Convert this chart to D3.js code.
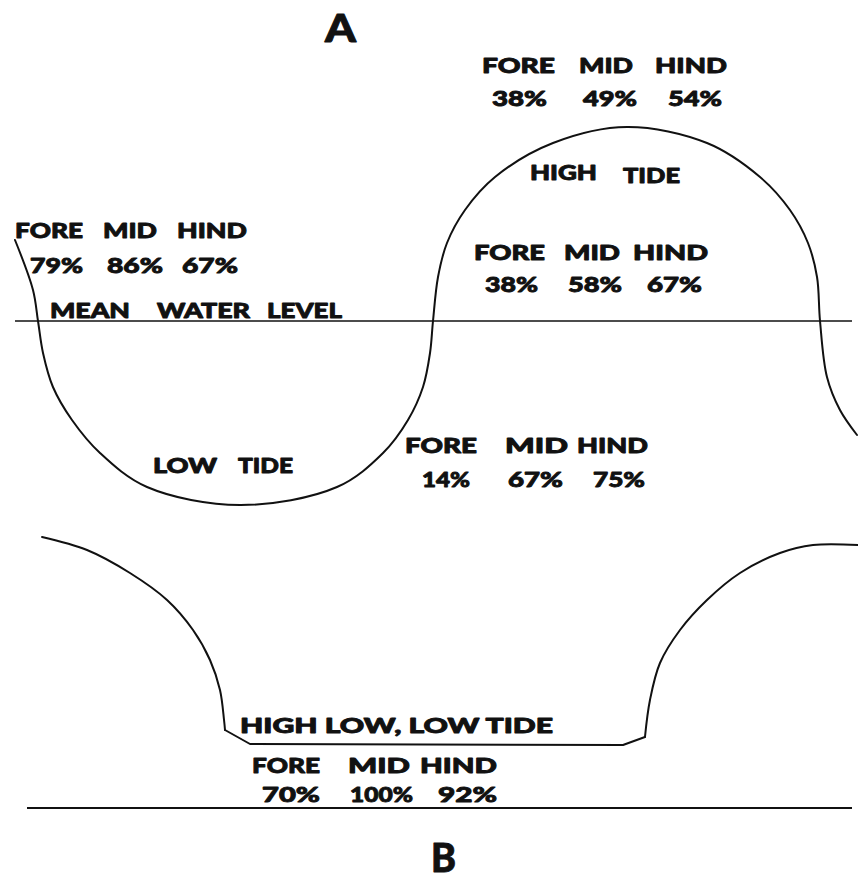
<!DOCTYPE html>
<html>
<head>
<meta charset="utf-8">
<script src="https://cdn.jsdelivr.net/npm/d3@7"></script>
<style>
  html, body { margin: 0; padding: 0; background: #fff; }
  svg { display: block; }
  text { font-family: "Lato", "Open Sans", "DejaVu Sans", sans-serif; font-weight: 900; fill: #111; stroke: #111; stroke-width: 0.9; stroke-linejoin: round; }
</style>
</head>
<body>
<svg id="chart" width="858" height="882"></svg>
<script>
// ---------------- DATA ----------------
// time in hours, level in tenths of a unit relative to the reference line
const tideCurveA = [
  [-0.354, 8.1], [-0.077, 3.1], [0, 0], [0.077, -3.2], [0.23, -6.6], [0.523, -9.9],
  [0.954, -13.2], [1.677, -16.6], [3.108, -18.4], [4.6, -16.6], [5.308, -13.2],
  [5.692, -9.9], [5.923, -6.6], [6.031, -3.2], [6.077, 0], [6.154, 4.4], [6.292, 7.8],
  [6.569, 11.1], [7.031, 14.4], [7.923, 17.8], [9.062, 19.4], [10.292, 17.8],
  [11.108, 14.4], [11.569, 11.1], [11.846, 7.8], [11.985, 4.4], [12.031, 0],
  [12.138, -5.6], [12.338, -8.9], [12.6, -11.4]
];
const tideLeftArcB = [
  [0.062, 27.1], [0.754, 25.8], [1.415, 23.5], [1.985, 20.8], [2.385, 17.8],
  [2.646, 14.8], [2.8, 11.8], [2.862, 8.8], [2.877, 7.8]
];
const tideFloorB = [
  [2.877, 7.8], [3.262, 6.4], [9.0, 6.3], [9.338, 7.1]
];
const tideRightArcB = [
  [9.338, 7.1], [9.415, 10.8], [9.569, 14.5], [9.877, 17.8], [10.292, 20.8],
  [10.8, 23.5], [11.415, 25.5], [11.923, 26.3], [12.615, 26.3]
];
const meanWaterLevelExtent = [-0.354, 12.523];
const baseLineBExtent = [-0.169, 12.523];

const segments = ["FORE", "MID", "HIND"];
const pctAboveHigh = ["38%", "49%", "54%"];
const pctHigh = ["38%", "58%", "67%"];
const pctLeft = ["79%", "86%", "67%"];
const pctFalling = ["14%", "67%", "75%"];
const pctHighLowLow = ["70%", "100%", "92%"];
const titleA = "A", titleB = "B";
const labelHighTide = ["HIGH", "TIDE"];
const labelLowTide = ["LOW", "TIDE"];
const labelMWL = ["MEAN", "WATER", "LEVEL"];
const labelHLL = "HIGH LOW, LOW TIDE";

// ---------------- SCALES ----------------
const svg = d3.select("#chart");
const x = d3.scaleLinear().domain([0, 1]).range([38, 103]);
const yA = d3.scaleLinear().domain([0, 1]).range([321, 311]);
const yB = d3.scaleLinear().domain([0, 1]).range([808, 798]);

const smooth = d3.line().curve(d3.curveCatmullRom.alpha(0.5));
const straight = d3.line();

function path(data, yS, gen) {
  svg.append("path")
    .attr("d", gen(data.map(d => [x(d[0]), yS(d[1])])))
    .attr("fill", "none").attr("stroke", "#111")
    .attr("stroke-width", 2).attr("stroke-linejoin", "round").attr("stroke-linecap", "round");
}

// reference lines
svg.append("line")
  .attr("x1", x(meanWaterLevelExtent[0])).attr("x2", x(meanWaterLevelExtent[1]))
  .attr("y1", yA(0)).attr("y2", yA(0)).attr("stroke", "#111").attr("stroke-width", 1.6);
svg.append("line")
  .attr("x1", x(baseLineBExtent[0])).attr("x2", x(baseLineBExtent[1]))
  .attr("y1", yB(0)).attr("y2", yB(0)).attr("stroke", "#111").attr("stroke-width", 1.8);

path(tideCurveA, yA, smooth);
path(tideLeftArcB, yB, smooth);
path(tideFloorB, yB, straight);
path(tideRightArcB, yB, smooth);

// ---------------- TEXT ----------------
function word(str, x0, x1, base, size) {
  svg.append("text")
    .attr("x", x0).attr("y", base)
    .attr("font-size", size)
    .attr("textLength", x1 - x0).attr("lengthAdjust", "spacingAndGlyphs")
    .text(str);
}
function row(words, spans, base, size) {
  words.forEach((w, i) => word(w, spans[i][0], spans[i][1], base, size));
}
const fs = 21;

word(titleA, 325, 356, 42, 38);
word(titleB, 431, 456, 872, 40);

row(segments, [[482, 555], [579, 633], [655, 727]], 73, fs);
row(pctAboveHigh, [[492, 547], [583, 637], [668, 722]], 106, fs);

word(labelHighTide[0], 530, 597, 180, fs);
word(labelHighTide[1], 623, 680, 183, fs);

row(segments, [[474, 545], [564, 620], [633, 708]], 260, fs);
row(pctHigh, [[485, 538], [568, 622], [647, 702]], 292, fs);

row(segments, [[15, 83], [103, 157], [177, 247]], 238, fs);
row(pctLeft, [[30, 83], [107, 163], [182, 238]], 273, fs);
row(labelMWL, [[50, 130], [157, 250], [267, 342]], 318, fs);

row(labelLowTide, [[153, 217], [238, 293]], 473, fs);

row(segments, [[405, 477], [505, 568], [577, 648]], 453, fs);
row(pctFalling, [[422, 470], [508, 563], [593, 645]], 487, fs);

word(labelHLL, 240, 553, 733, fs);
row(segments, [[252, 320], [348, 410], [420, 497]], 773, fs);
row(pctHighLowLow, [[262, 320], [350, 413], [438, 497]], 802, fs);
</script>
</body>
</html>
